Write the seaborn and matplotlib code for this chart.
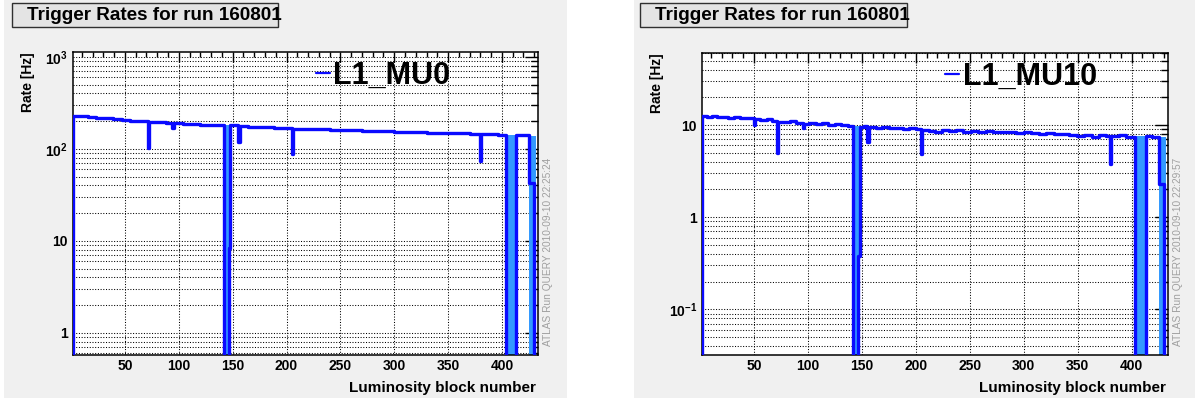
import matplotlib
matplotlib.use("Agg")
import matplotlib.pyplot as plt
import pandas as pd
import seaborn as sns
from matplotlib.patches import Rectangle
from matplotlib.lines import Line2D
from matplotlib.ticker import FixedLocator, FixedFormatter, LogLocator, NullFormatter, MultipleLocator

RUN_NUMBER = "160801"
X_TITLE = "Luminosity block number"
Y_TITLE = "Rate [Hz]"

# L1_MU0: rate per luminosity block (step starts at each block)
mu0_block = [1, 2, 9, 16, 23, 31, 39, 47, 55, 63, 71, 72, 80, 88, 94, 96, 104, 112, 120, 128,
             136, 142, 147, 148, 155, 157, 164, 172, 180, 188, 196, 205, 206, 214, 222, 231, 240,
             250, 260, 270, 280, 290, 300, 310, 320, 330, 340, 350, 360, 370, 380, 381, 388, 396,
             404, 413, 425, 430]
mu0_rate = [0, 229, 226, 222, 218, 214, 209, 205, 202, 199, 102, 197, 194, 192, 168, 190, 188, 186,
            184, 183, 181, 0, 8.4, 180, 120, 177, 175, 173, 171, 169, 167, 88, 166, 165, 164, 163,
            162, 160, 159, 158, 157, 155, 154, 152, 151, 150, 149, 148, 147, 146, 73, 145, 144, 143,
            0, 140, 43, 0]
# L1_MU0: shaded blocks (start, end, level)
mu0_fill_start = [142, 404, 425]
mu0_fill_end = [148, 413, 432]
mu0_fill_top = [181, 142, 137]

# L1_MU10: rate per luminosity block
mu10_block = [1, 2, 6, 11, 16, 21, 26, 31, 37, 43, 50, 51, 56, 62, 67, 71, 72, 77, 83, 89, 95, 96,
              101, 107, 113, 119, 125, 131, 137, 142, 146, 148, 152, 155, 157, 163, 169, 175, 181,
              188, 194, 200, 205, 206, 212, 218, 224, 231, 237, 244, 251, 258, 265, 272, 279, 286,
              293, 300, 307, 314, 321, 328, 335, 342, 349, 356, 363, 370, 376, 380, 381, 388, 395,
              403, 413, 419, 425, 430]
mu10_rate = [0, 12.5, 12.2, 12.5, 12.1, 12.3, 11.9, 12.2, 11.8, 11.9, 10.0, 11.6, 11.3, 11.5, 11.0,
             5.0, 10.9, 10.7, 11.0, 10.6, 9.3, 10.3, 10.6, 10.2, 10.4, 10.1, 10.3, 9.9, 9.7, 0, 0.38,
             9.6, 9.8, 6.6, 9.5, 9.3, 9.5, 9.2, 9.3, 9.0, 9.2, 9.0, 4.8, 8.9, 8.7, 8.5, 8.8, 8.6, 8.8,
             8.5, 8.7, 8.4, 8.6, 8.5, 8.3, 8.5, 8.2, 8.4, 8.2, 8.0, 8.2, 7.9, 8.0, 7.8, 7.6, 7.7, 7.5,
             7.7, 7.6, 3.8, 7.6, 7.7, 7.5, 0, 7.6, 7.4, 2.3, 0]
mu10_fill_start = [142, 403, 425]
mu10_fill_end = [148, 413, 432]
mu10_fill_top = [9.7, 7.6, 7.4]

LB_RANGE = (1.5, 433.5)

DARK = "#0a0aff"
LIGHT = "#3399ff"
PAD_GREY = "#f0f0f0"

sns.set_style("white")
plt.rcParams["font.family"] = ["Liberation Sans", "DejaVu Sans"]
plt.rcParams["font.weight"] = "bold"
plt.rcParams["text.color"] = "black"
plt.rcParams["xtick.color"] = "black"
plt.rcParams["ytick.color"] = "black"
plt.rcParams["xtick.labelcolor"] = "black"
plt.rcParams["ytick.labelcolor"] = "black"
plt.rcParams["legend.labelcolor"] = "black"
plt.rcParams["mathtext.fontset"] = "custom"
plt.rcParams["mathtext.rm"] = "Liberation Sans:bold"
plt.rcParams["mathtext.bf"] = "Liberation Sans:bold"
plt.rcParams["mathtext.it"] = "Liberation Sans:bold"

W, H = 1203, 404
fig = plt.figure(figsize=(W / 100, H / 100), dpi=100)
fig.patch.set_facecolor("white")


def fx(px):
    return px / W


def fy(py):
    return 1 - py / H


def rect(x0, y0, x1, y1, **kw):
    fig.add_artist(Rectangle((fx(x0), fy(y1)), (x1 - x0) / W, (y1 - y0) / H,
                             transform=fig.transFigure, **kw))


def draw_panel(pad, box, frame, blocks, rates, f_start, f_end, f_top,
               ylim, yticks, ylabels, trigger, stamp):
    px0, py0, px1, py1 = pad
    rect(px0, py0, px1, py1, facecolor=PAD_GREY, edgecolor="none", zorder=-10)

    # title box
    bx0, by0, bx1, by1 = box
    rect(bx0, by0, bx1, by1, facecolor="#e4e4e4", edgecolor="#303030", lw=1.0, zorder=5)
    fig.text(fx(bx0 + 15), fy((by0 + by1) / 2 + 1), f"Trigger Rates for run {RUN_NUMBER}",
             ha="left", va="center", fontsize=13.6, fontweight="bold", color="black", zorder=6)

    ax0, ay0, ax1, ay1 = frame
    ax = fig.add_axes([fx(ax0), fy(ay1), (ax1 - ax0) / W, (ay1 - ay0) / H])
    ax.set_facecolor("white")

    for s, e, t in zip(f_start, f_end, f_top):
        ax.fill_between([s, e], [ylim[0], ylim[0]], [t, t], color=LIGHT, lw=0, zorder=2)

    df = pd.DataFrame({"block": list(blocks) + [LB_RANGE[1]],
                       "rate": list(rates) + [rates[-1]]})
    sns.lineplot(data=df, x="block", y="rate", drawstyle="steps-post", estimator=None,
                 color=DARK, lw=2.4, ax=ax, zorder=3)

    ax.set_yscale("log")
    ax.set_xlim(*LB_RANGE)
    ax.set_ylim(*ylim)
    ax.set_xlabel("")
    ax.set_ylabel("")

    ax.xaxis.set_major_locator(MultipleLocator(50))
    ax.xaxis.set_minor_locator(MultipleLocator(10))
    ax.yaxis.set_major_locator(FixedLocator(yticks))
    ax.yaxis.set_major_formatter(FixedFormatter(ylabels))
    ax.yaxis.set_minor_locator(LogLocator(base=10, subs=range(2, 10), numticks=20))
    ax.yaxis.set_minor_formatter(NullFormatter())

    ax.tick_params(which="both", direction="in", top=True, right=True, width=1.0,
                   color="black", labelsize=10, labelcolor="black")
    ax.tick_params(axis="x", which="major", length=7.2, pad=3)
    ax.tick_params(axis="x", which="minor", length=3.6)
    ax.tick_params(axis="y", which="major", length=9.4, pad=3.4)
    ax.tick_params(axis="y", which="minor", length=5)
    for lbl in ax.get_xticklabels() + ax.get_yticklabels():
        lbl.set_fontweight("bold")

    dots = dict(color="black", lw=0.75, ls=(0, (1, 1.6)))
    ax.grid(True, which="major", axis="x", **dots)
    ax.grid(True, which="both", axis="y", **dots)
    ax.set_axisbelow(True)

    for sp in ax.spines.values():
        sp.set_color("black")
        sp.set_linewidth(1.1)
        sp.set_visible(True)

    ax.legend(handles=[Line2D([], [], color=DARK, lw=1.6)], labels=[trigger],
              loc="center left", bbox_to_anchor=(0.523, 0.921), frameon=False,
              prop={"size": 22, "weight": "bold"}, handlelength=0.45,
              handletextpad=0.12, borderpad=0, borderaxespad=0, labelcolor="black")

    fig.text(fx(ax0 - 45), fy(ay0), Y_TITLE, rotation=90, ha="center", va="top",
             fontsize=10, fontweight="bold", color="black")
    fig.text(fx(ax1 - 2), fy(388), X_TITLE, ha="right", va="center",
             fontsize=11, fontweight="bold", color="black")
    fig.text(fx(ax1 + 10), fy(252), stamp, rotation=90, ha="center", va="center",
             fontsize=7.3, fontweight="normal", color="#a0a0a0")
    return ax


draw_panel(pad=(4, 0, 567, 398), box=(12, 3, 278, 27), frame=(72.7, 52, 538, 355),
           blocks=mu0_block, rates=mu0_rate, f_start=mu0_fill_start, f_end=mu0_fill_end,
           f_top=mu0_fill_top, ylim=(0.575, 1130), yticks=[1, 10, 100, 1000],
           ylabels=["1", "10", r"$10^{2}$", r"$10^{3}$"], trigger="L1_MU0",
           stamp="ATLAS Run QUERY 2010-09-10 22:25:24")

draw_panel(pad=(634, 0, 1195, 398), box=(640, 3, 907, 27), frame=(701.7, 53.3, 1167.7, 355),
           blocks=mu10_block, rates=mu10_rate, f_start=mu10_fill_start, f_end=mu10_fill_end,
           f_top=mu10_fill_top, ylim=(0.032, 60), yticks=[0.1, 1, 10],
           ylabels=[r"$10^{-1}$", "1", "10"], trigger="L1_MU10",
           stamp="ATLAS Run QUERY 2010-09-10 22:29:57")

fig.savefig("out.png", dpi=100, facecolor="white")
